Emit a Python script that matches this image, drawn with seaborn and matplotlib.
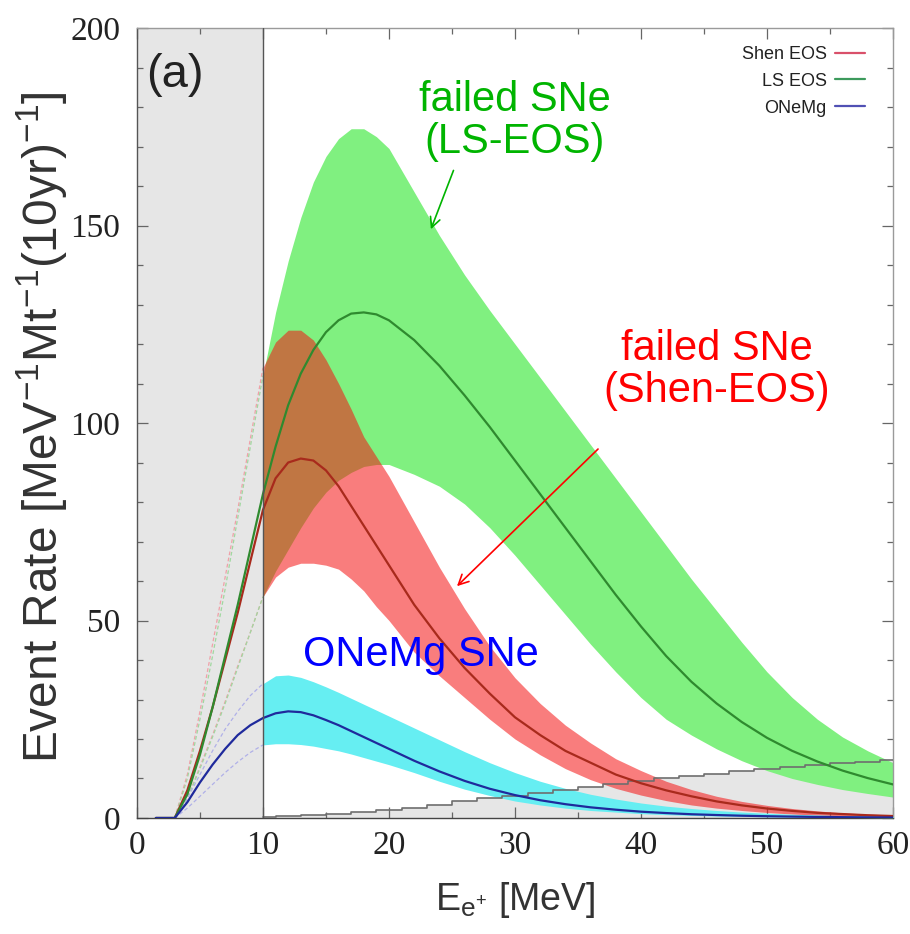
import numpy as np
import matplotlib
matplotlib.use("Agg")
import matplotlib.pyplot as plt
import seaborn as sns
from matplotlib.lines import Line2D
from matplotlib.ticker import MultipleLocator

# Positron energy grid [MeV]
energy = [1.5, 3, 4, 5, 6, 7, 8, 9, 10, 11, 12, 13, 14, 15, 16, 17, 18, 19, 20,
          22, 24, 26, 28, 30, 32, 34, 36, 38, 40, 42, 44, 46, 48, 50, 52, 54, 56, 58, 60]

# failed SNe, Shen EOS: central curve and band edges
shen_mid = [0, 0, 7, 17, 28, 40, 52, 65, 78, 86, 90, 91, 90.5, 88, 84, 79, 74, 69, 64,
            54, 45.5, 38, 31.5, 25.5, 21, 17, 14, 11, 8.8, 7, 5.5, 4.2, 3.2, 2.4, 1.8, 1.3, 1.0, 0.7, 0.5]
shen_hi = [0, 0, 11, 27, 44, 61, 78, 96, 114, 120.5, 123.5, 123.5, 121, 116, 110, 103.5, 96.5, 91.5, 86.5,
           75, 63.5, 53, 43.5, 35.5, 29, 23.5, 19, 15, 12, 9.3, 7.2, 5.5, 4.2, 3.2, 2.4, 1.8, 1.3, 1.0, 0.75]
shen_lo = [0, 0, 5, 13, 21, 29.5, 38.5, 47, 56, 61, 63.5, 64.5, 64.5, 64, 63, 60.5, 57.5, 53.5, 50,
           42, 36, 30.5, 25, 20, 16, 12.5, 9.7, 7.5, 5.8, 4.4, 3.3, 2.5, 1.9, 1.4, 1.0, 0.75, 0.55, 0.4, 0.3]

# failed SNe, LS EOS
ls_mid = [0, 0, 6, 16, 28, 41, 54, 68, 82, 94, 104.5, 112.5, 118.5, 123, 126, 127.7, 128, 127.5, 126,
          121, 114.5, 107, 99, 90.5, 82, 73.5, 65, 56.5, 48.5, 41, 34.5, 29, 24.3, 20.3, 17, 14.3, 12, 10.1, 8.5]
ls_hi = [0, 0, 10, 25, 41, 58, 76, 94, 112, 128, 141, 152, 161, 167.5, 172, 174.5, 174.5, 172.5, 169.5,
         158.5, 147.5, 137.5, 128.5, 120, 111.5, 103, 94.5, 86, 77.5, 69, 60.5, 52.5, 44.5, 37, 30.5, 25, 20.5, 17, 14]
ls_lo = [0, 0, 5, 12.5, 20.5, 29, 38, 47, 56, 62.5, 68, 73.5, 78.5, 82.5, 85.5, 87.5, 89, 89.5, 89.5,
         87, 84, 79.5, 73.5, 66.5, 59, 51.5, 44, 37, 30.5, 25, 21, 17.5, 14.5, 12, 10, 8.5, 7.2, 6.2, 5.3]

# ONeMg SNe
onemg_mid = [0, 0, 4, 9, 13.5, 17.5, 21, 23.5, 25.3, 26.5, 27, 26.8, 26, 24.8, 23.5, 22, 20.5, 19, 17.5,
             14.5, 11.8, 9.4, 7.4, 5.8, 4.5, 3.5, 2.7, 2.1, 1.6, 1.25, 0.95, 0.75, 0.58, 0.45, 0.35, 0.27, 0.21, 0.16, 0.12]
onemg_hi = [0, 0, 5, 11, 17, 22.5, 27, 31, 34, 36, 36.2, 35.6, 34.5, 33.2, 31.8, 30.3, 28.8, 27.3, 25.8,
            22.8, 19.8, 16.8, 14, 11.5, 9.3, 7.5, 6, 4.8, 3.8, 3, 2.4, 1.9, 1.5, 1.2, 0.95, 0.75, 0.6, 0.48, 0.38]
onemg_lo = [0, 0, 2.5, 5.5, 8.5, 11.5, 14.2, 16.6, 18.5, 18.8, 18.8, 18.6, 18.2, 17.6, 17, 16.2, 15.3, 14.4, 13.5,
            11.5, 9.3, 7.3, 5.7, 4.3, 3.3, 2.5, 1.9, 1.5, 1.1, 0.85, 0.65, 0.5, 0.38, 0.3, 0.23, 0.18, 0.14, 0.11, 0.08]

# Background event rate
bkg_energy = [10, 12, 14, 16, 18, 20, 22, 24, 26, 28, 30, 32, 34, 36, 38, 40, 42, 44, 46, 48, 50, 52, 54, 56, 58, 60]
bkg_rate = [0.2, 0.4, 0.7, 1.0, 1.5, 2.0, 2.6, 3.4, 4.2, 5.0, 5.6, 6.3, 7.0, 7.8, 8.6, 9.4, 10.0, 10.6, 11.2,
            11.8, 12.3, 12.8, 13.3, 13.8, 14.2, 14.6]

legend_labels = ["Shen EOS", "LS EOS", "ONeMg"]

sns.set_theme(style="ticks")
plt.rcParams["font.family"] = ["Liberation Sans", "DejaVu Sans"]
plt.rcParams["mathtext.default"] = "regular"

fig = plt.figure(figsize=(9.1, 9.34), dpi=100)
ax = fig.add_axes([0.1505, 0.1242, 0.8308, 0.8458])

e = np.asarray(energy, dtype=float)
hi_part = e >= 10
lo_part = e <= 10

def arr(v):
    return np.asarray(v, dtype=float)

# threshold region and background
ax.axvspan(0, 10, color="#e6e6e6", lw=0, zorder=0)
ax.fill_between(bkg_energy, 0, bkg_rate, step="mid", color="#e6e6e6", lw=0, zorder=0.5)

# uncertainty bands above threshold
ax.fill_between(e[hi_part], arr(ls_lo)[hi_part], arr(ls_hi)[hi_part], color="#80f080", lw=0, zorder=1)
ax.fill_between(e[hi_part], arr(shen_lo)[hi_part], arr(shen_hi)[hi_part], color=(0.96, 0.07, 0.07),
                alpha=0.55, lw=0, zorder=2)
ax.fill_between(e[hi_part], arr(onemg_lo)[hi_part], arr(onemg_hi)[hi_part], color="#66eef2", lw=0, zorder=3)

# band edges below threshold
edge_styles = [(shen_hi, shen_lo, "#f0a0a8"), (ls_hi, ls_lo, "#a0d8a0"), (onemg_hi, onemg_lo, "#b0b0e8")]
for hi, lo, c in edge_styles:
    for edge in (hi, lo):
        ax.plot(e[lo_part], arr(edge)[lo_part], ls=(0, (3, 2)), lw=0.9, color=c, zorder=3.5)

# background line
ax.plot(bkg_energy, bkg_rate, drawstyle="steps-mid", color="#6e6e6e", lw=1.2, zorder=4)

# central curves
sns.lineplot(x=e, y=arr(shen_mid), color="#a82a1c", lw=1.6, ax=ax, zorder=5)
sns.lineplot(x=e, y=arr(ls_mid), color="#2f8a2f", lw=1.6, ax=ax, zorder=5)
sns.lineplot(x=e, y=arr(onemg_mid), color="#1f2a9c", lw=1.6, ax=ax, zorder=5)

ax.axvline(10, color="#555555", lw=1.0, zorder=6)

ax.set_xlim(0, 60)
ax.set_ylim(0, 200)
ax.xaxis.set_major_locator(MultipleLocator(10))
ax.xaxis.set_minor_locator(MultipleLocator(5))
ax.yaxis.set_major_locator(MultipleLocator(50))
ax.yaxis.set_minor_locator(MultipleLocator(10))
ax.tick_params(which="both", direction="in", top=True, right=True, color="#666666", width=0.9)
ax.tick_params(which="major", length=8)
ax.tick_params(which="minor", length=4)
ax.tick_params(axis="both", labelsize=24, labelcolor="#222222", labelfontfamily="Liberation Serif")
ax.tick_params(axis="y", pad=12)
ax.tick_params(axis="x", pad=9)
for side, c in (("left", "#555555"), ("bottom", "#444444"), ("top", "#9a9a9a"), ("right", "#9a9a9a")):
    ax.spines[side].set_color(c)
    ax.spines[side].set_linewidth(1.0)

ax.set_xlabel(r"E$_{e^{+}}$ [MeV]", fontsize=27, color="#333333")
ax.xaxis.set_label_coords(0.5, -0.078)
ax.set_ylabel(r"Event Rate [MeV$^{-1}$Mt$^{-1}$(10yr)$^{-1}$]", fontsize=34.5, color="#333333")
ax.yaxis.set_label_coords(-0.088, 0.495)

ax.text(3.0, 188, "(a)", fontsize=34, color="#222222", ha="center", va="center")

handles = [Line2D([], [], color=c, lw=1.6) for c in ("#d9506a", "#3c9a5c", "#5050b4")]
ax.legend(handles, legend_labels, loc="upper right", bbox_to_anchor=(0.985, 0.998), frameon=False,
          markerfirst=False, fontsize=13, handlelength=1.7, handletextpad=0.45, labelspacing=0.55,
          labelcolor="#222222")

# annotations
ax.text(30.0, 176.5, "failed SNe\n(LS-EOS)", fontsize=30, color="#00b400", ha="center", va="center",
        linespacing=1.05, zorder=7)
ax.annotate("", xy=(23.25, 148.4), xytext=(25.2, 164.6),
            arrowprops=dict(arrowstyle="->", color="#00b400", lw=1.2, mutation_scale=18), zorder=7)
ax.text(46.0, 113.4, "failed SNe\n(Shen-EOS)", fontsize=30, color="#ff0000", ha="center", va="center",
        linespacing=1.05, zorder=7)
ax.annotate("", xy=(25.24, 58.2), xytext=(36.75, 93.9),
            arrowprops=dict(arrowstyle="->", color="#ff0000", lw=1.2, mutation_scale=18), zorder=7)
ax.text(22.5, 41.3, "ONeMg SNe", fontsize=30, color="#0000ff", ha="center", va="center", zorder=7)

fig.savefig("out.png", dpi=100)
